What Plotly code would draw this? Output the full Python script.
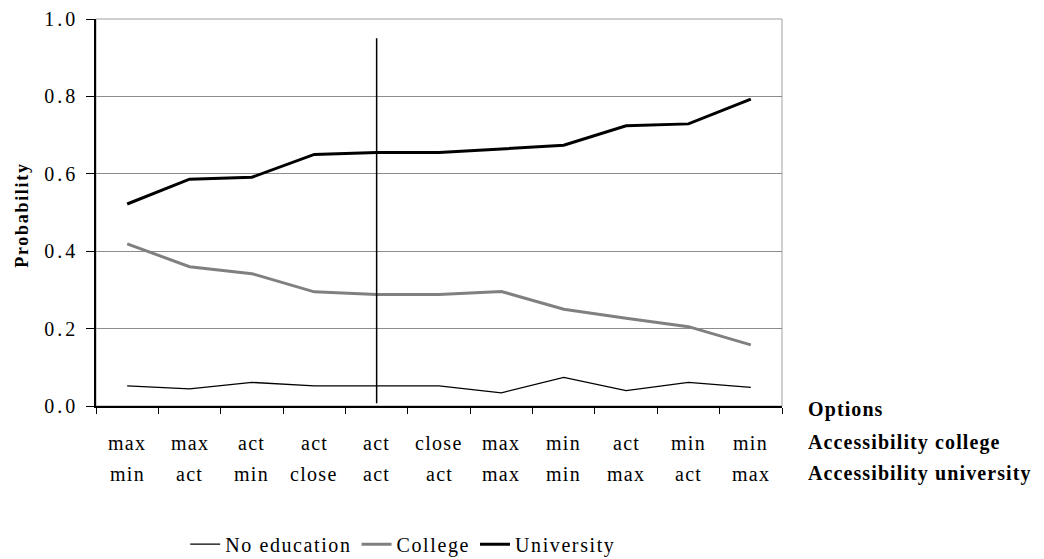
import plotly.graph_objects as go

# ---- data ----
acc_college = ["max", "max", "act", "act", "act", "close", "max", "min", "act", "min", "min"]
acc_university = ["min", "act", "min", "close", "act", "act", "max", "min", "max", "act", "max"]
categories = [c + " " + u for c, u in zip(acc_college, acc_university)]

no_education = [0.052, 0.044, 0.061, 0.052, 0.052, 0.052, 0.034, 0.074, 0.040, 0.061, 0.048]
college = [0.419, 0.360, 0.342, 0.295, 0.288, 0.288, 0.296, 0.250, 0.227, 0.205, 0.158]
university = [0.522, 0.586, 0.591, 0.650, 0.655, 0.655, 0.664, 0.674, 0.724, 0.729, 0.793]

y_ticks = [0.0, 0.2, 0.4, 0.6, 0.8, 1.0]
y_tick_labels = ["0.0", "0.2", "0.4", "0.6", "0.8", "1.0"]

reference_option = "act act"
row_titles = ["Options", "Accessibility college", "Accessibility university"]

FONT = "Liberation Serif"


def spaced(text, ls=1.5):
    return f'<span style="letter-spacing:{ls}px">{text}</span>'


fig = go.Figure()
fig.add_trace(go.Scatter(x=categories, y=no_education, mode="lines",
                         name=spaced("No education", 1.6),
                         line=dict(color="black", width=1.3)))
fig.add_trace(go.Scatter(x=categories, y=college, mode="lines",
                         name=spaced("College", 1.6),
                         line=dict(color="#808080", width=3)))
fig.add_trace(go.Scatter(x=categories, y=university, mode="lines",
                         name=spaced("University", 1.6),
                         line=dict(color="black", width=3)))

# plot frame (grey top/right)
fig.add_shape(type="rect", xref="paper", yref="paper", x0=0, x1=1, y0=0, y1=1,
              line=dict(color="#a0a0a0", width=1), layer="below")

# vertical reference line at the actual situation
ref_idx = categories.index(reference_option)
fig.add_shape(type="line", xref="x", yref="y", x0=ref_idx, x1=ref_idx, y0=0.007, y1=0.95,
              line=dict(color="black", width=1.5))

annotations = []
for cat, c, u in zip(categories, acc_college, acc_university):
    annotations.append(dict(x=cat, y=-0.0956, xref="x", yref="paper", text=spaced(c, 1.3),
                            showarrow=False, xanchor="center", yanchor="middle",
                            font=dict(family=FONT, size=20, color="black")))
    annotations.append(dict(x=cat, y=-0.1757, xref="x", yref="paper", text=spaced(u, 1.3),
                            showarrow=False, xanchor="center", yanchor="middle",
                            font=dict(family=FONT, size=20, color="black")))
for t, yy in zip(row_titles, [-0.0103, -0.0956, -0.1757]):
    annotations.append(dict(x=1.035, y=yy, xref="paper", yref="paper",
                            text="<b>" + spaced(t, 1.1) + "</b>",
                            showarrow=False, xanchor="left", yanchor="middle",
                            font=dict(family=FONT, size=20, color="black")))
annotations.append(dict(x=-0.108, y=0.494, xref="paper", yref="paper",
                        text="<b>" + spaced("Probability", 1.7) + "</b>", textangle=-90,
                        showarrow=False, xanchor="center", yanchor="middle",
                        font=dict(family=FONT, size=18, color="black")))

fig.update_layout(
    width=1044, height=559,
    margin=dict(l=96, r=262, t=19, b=153, autoexpand=False),
    paper_bgcolor="white", plot_bgcolor="white",
    font=dict(family=FONT, size=20, color="black"),
    showlegend=True,
    legend=dict(orientation="h", x=0.13, y=-0.357, xanchor="left", yanchor="middle",
                font=dict(family=FONT, size=20, color="black"),
                bgcolor="rgba(0,0,0,0)", itemwidth=30, tracegroupgap=0),
    annotations=annotations,
)
fig.update_xaxes(type="category", categoryorder="array", categoryarray=categories,
                 showticklabels=False, ticks="outside", tickson="boundaries",
                 ticklen=6, tickcolor="black", tickwidth=1, automargin=False,
                 showline=True, linecolor="black", linewidth=1.5,
                 showgrid=False, zeroline=False, range=[-0.5, len(categories) - 0.5])
fig.update_yaxes(range=[0, 1], tickvals=y_ticks,
                 ticktext=[spaced(t, 3) for t in y_tick_labels],
                 ticks="outside", ticklen=8, tickcolor="black", tickwidth=1,
                 ticklabelstandoff=4, automargin=False,
                 tickfont=dict(family=FONT, size=20, color="black"),
                 showline=True, linecolor="black", linewidth=1.5,
                 showgrid=True, gridcolor="#8c8c8c", gridwidth=1, zeroline=False)

fig.write_html("out.html", config={"displayModeBar": False},
               post_script="document.body.style.margin='0px';")
